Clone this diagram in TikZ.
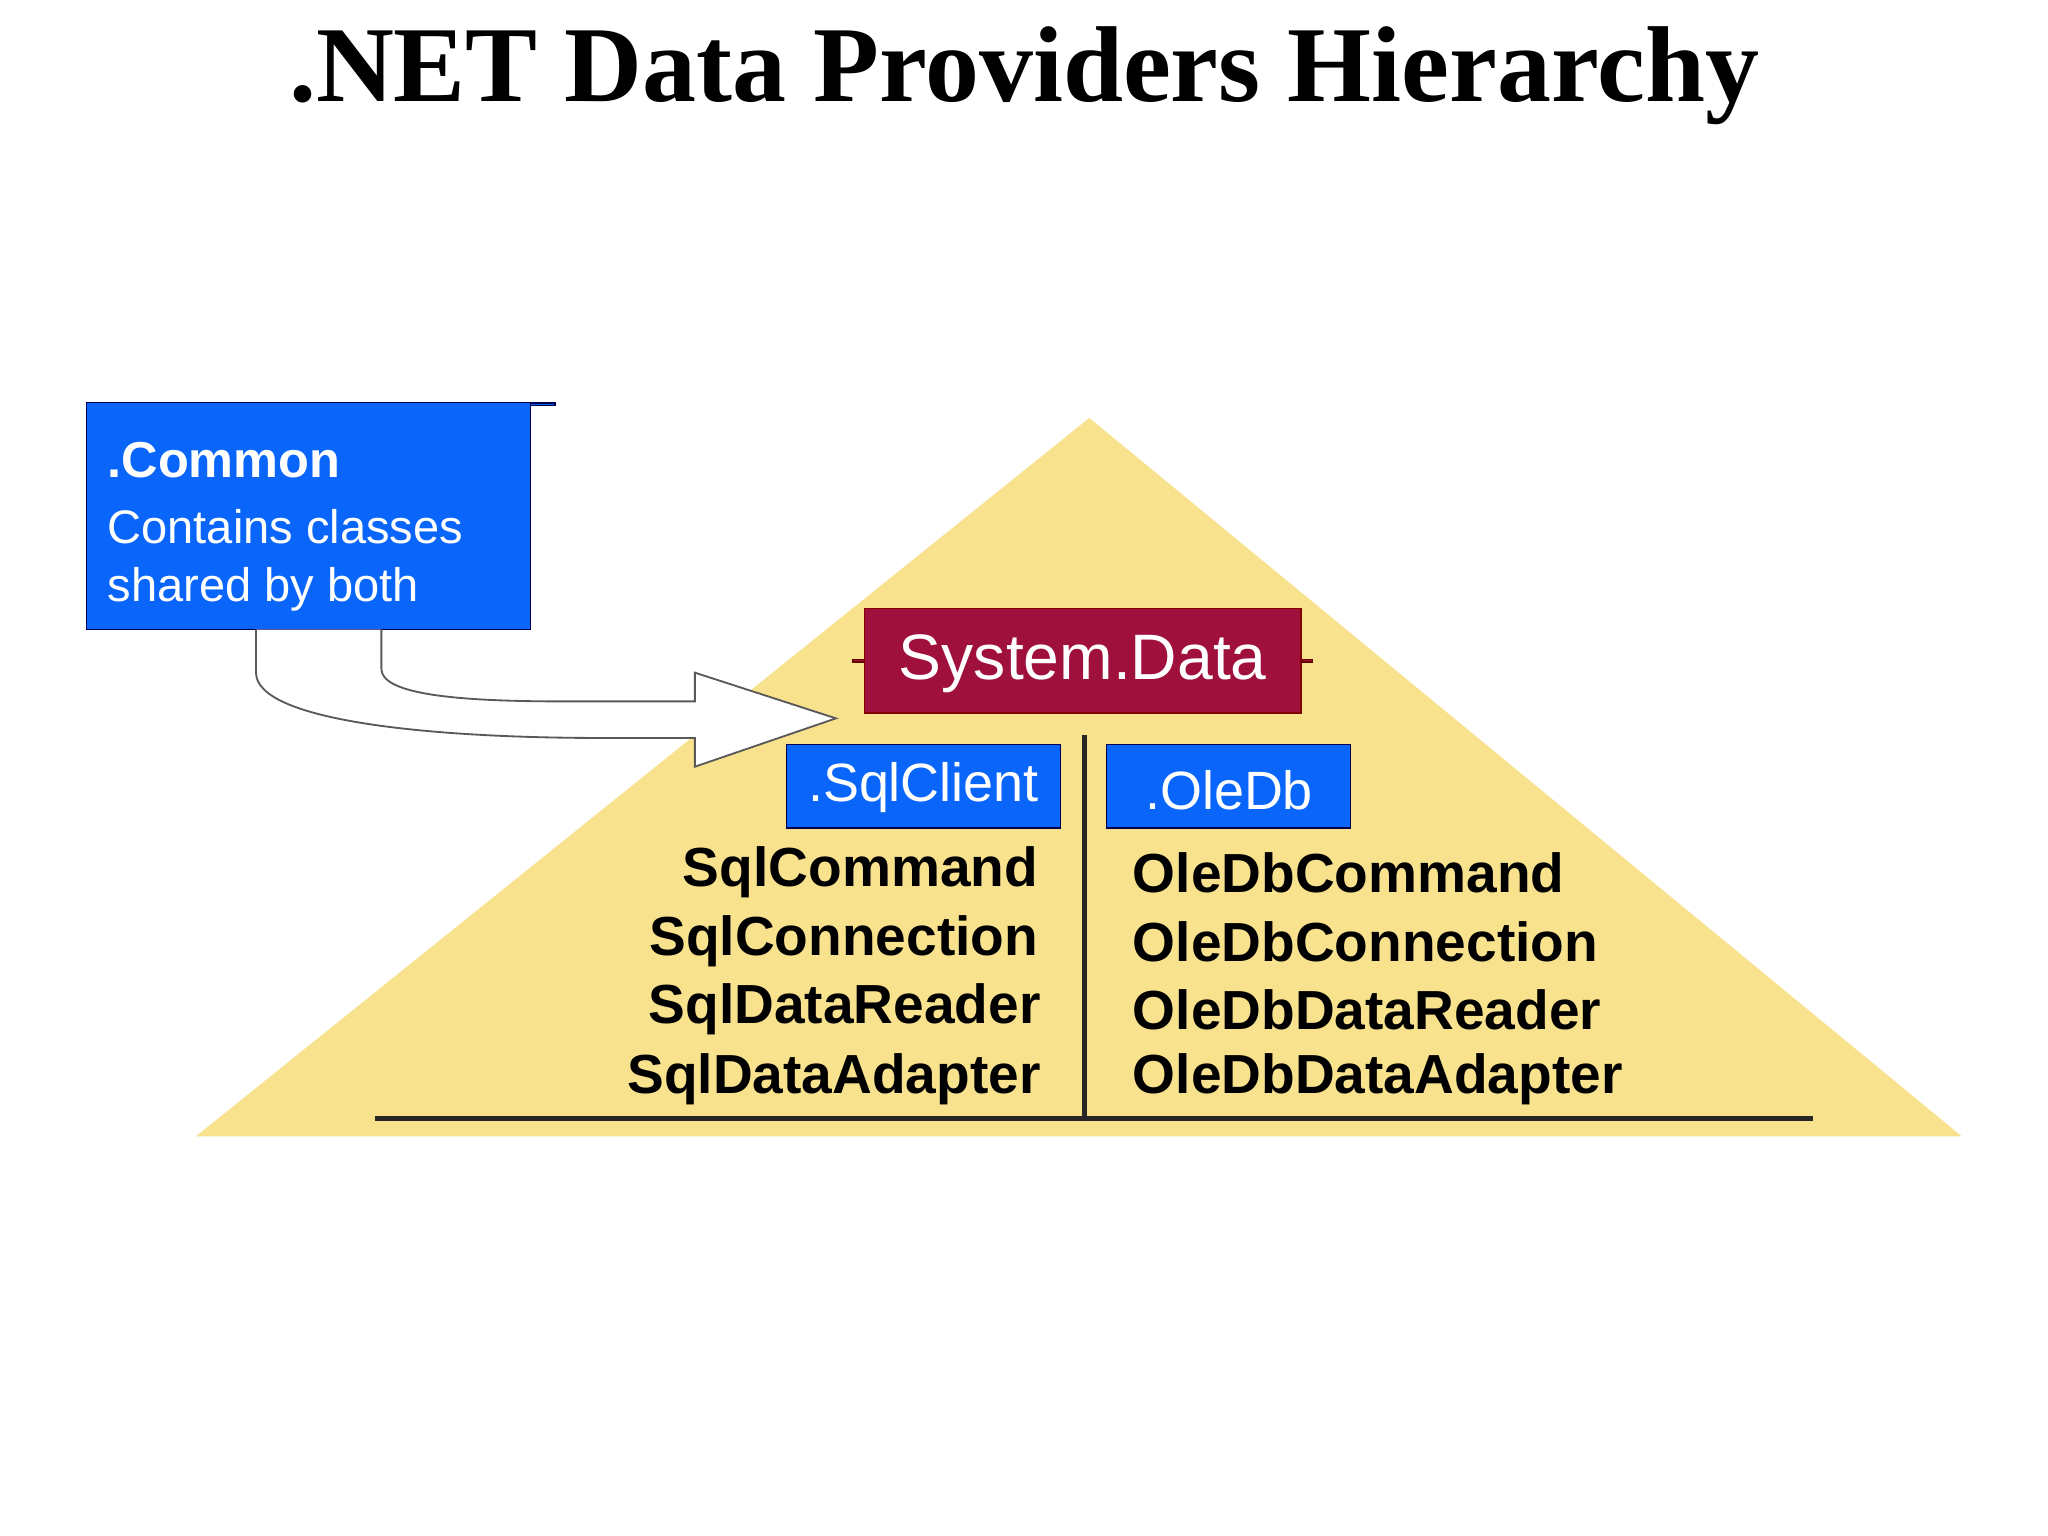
\documentclass[tikz,border=0pt]{standalone}
\usepackage{fontspec}
\setmainfont{Liberation Sans}
\newfontfamily\titlefont{Liberation Serif}
\definecolor{tri}{HTML}{F9E28E}
\definecolor{bluebox}{HTML}{0A66FA}
\definecolor{maroon}{HTML}{A0103C}
\begin{document}
\begin{tikzpicture}[x=0.02cm,y=-0.02cm,
  bbox/.style={fill=bluebox,draw=black!70!blue,line width=0.6pt,inner sep=0pt,text=white},
  item/.style={font=\bfseries\fontsize{24}{28}\selectfont,inner sep=0pt,text=black}]
\useasboundingbox[fill=white] (0,0) rectangle (1568,1176);
\node[font=\titlefont\bfseries\fontsize{47}{50}\selectfont] (title) at (784,58) {.NET Data Providers Hierarchy};
\fill[tri] (834,320) -- (1502,870) -- (150,870) -- cycle;
% common box
\node[bbox,minimum width=340\pgflinewidth,anchor=north west] (common) at (66,308) {};
\draw[bbox] (66,308) rectangle (406,482);
\coordinate (cbl) at (196,482);
\coordinate (cbr) at (292,482);
\node[anchor=west,text=white,font=\bfseries\fontsize{22}{24}\selectfont,inner sep=0pt] (ct) at (82,352) {.Common};
\node[anchor=west,text=white,font=\fontsize{20.5}{24}\selectfont,inner sep=0pt] (c1) at (82,403) {Contains classes};
\node[anchor=west,text=white,font=\fontsize{20.5}{24}\selectfont,inner sep=0pt] (c2) at (82,451) {shared by both};
% arrow
\coordinate (tip) at (640,550);
\draw[fill=white,draw=black!65,line width=0.8pt]
  (cbl) -- (196,515) .. controls (196,552) and (330,565) .. (460,565) -- (532,565)
  -- (532,587) -- (tip) -- (532,515) -- (532,537) -- (430,537)
  .. controls (340,537) and (292,530) .. (292,512) -- (cbr);
% system.data
\node[fill=maroon,draw=black!60!red,line width=0.6pt,minimum width=334\pgflinewidth,text=white,font=\fontsize{28}{30}\selectfont,inner sep=0pt] (sd) at (829,506) {};
\draw[fill=maroon,draw=black!50!red,line width=0.6pt] (662,466) rectangle (996,546);
\node[text=white,font=\fontsize{28}{30}\selectfont,inner sep=0pt] (sdt) at (829,508) {System.Data};
\draw[bbox] (602,570) rectangle (812,634);
\node[text=white,font=\fontsize{23.5}{26}\selectfont,inner sep=0pt] (sql) at (707,603) {.SqlClient};
\draw[bbox] (847,570) rectangle (1034,634);
\node[text=white,font=\fontsize{23.5}{26}\selectfont,inner sep=0pt] (ole) at (941,605) {.OleDb};
% lines
\coordinate (vt) at (830,563);
\coordinate (vb) at (830,856);
\draw[line width=2.2pt,black!85] (vt) -- (vb);
\coordinate (hl) at (287,856);
\coordinate (hr) at (1388,856);
\draw[line width=2.2pt,black!85] (hl) -- (hr);
% items
\node[item,anchor=east] (s1) at (795,668) {SqlCommand};
\node[item,anchor=east] (s2) at (795,721) {SqlConnection};
\node[item,anchor=east] (s3) at (797,773) {SqlDataReader};
\node[item,anchor=east] (s4) at (797,826) {SqlDataAdapter};
\node[item,anchor=west] (o1) at (867,668) {OleDbCommand};
\node[item,anchor=west] (o2) at (867,721) {OleDbConnection};
\node[item,anchor=west] (o3) at (867,773) {OleDbDataReader};
\node[item,anchor=west] (o4) at (867,826) {OleDbDataAdapter};
\end{tikzpicture}
\end{document}
